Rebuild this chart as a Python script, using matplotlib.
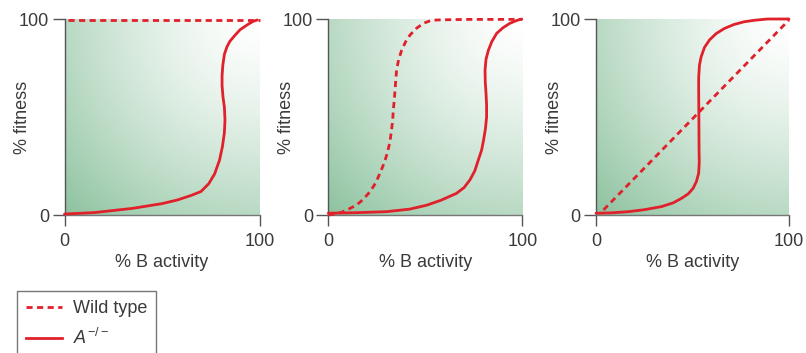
import matplotlib.pyplot as plt
import numpy as np
from matplotlib.lines import Line2D

plt.rcParams['font.family'] = ['Liberation Sans', 'DejaVu Sans']
plt.rcParams['mathtext.fontset'] = 'custom'
plt.rcParams['mathtext.rm'] = 'Liberation Sans'
plt.rcParams['mathtext.it'] = 'Liberation Sans:italic'

RED = '#e0202a'
TXT = '#3a3a3a'

# panel 1 - wild type flat at 100, mutant S-curve
wt1_x = [2, 100]
wt1_y = [99.5, 99.5]
mu1_x = [0, 15, 35, 50, 58, 65, 70, 74, 77, 79.5, 81, 82, 82.3, 82, 81.3, 80.8, 80.8, 81.2, 82, 83.3, 84.8, 86.8, 90, 93.7, 96.5, 98.8]
mu1_y = [0.5, 1.2, 3.4, 5.8, 7.7, 10, 12, 16, 21, 28, 35, 42, 48.5, 55, 60, 66, 71, 76.5, 82, 85.8, 88.6, 91, 94.5, 97, 98.7, 99.5]

# panel 2 - wild type sigmoid, mutant S-curve
wt2_x = [0, 3.5, 6.9, 10.5, 14.6, 18, 21.5, 24.5, 26.6, 28.8, 30.4, 31.8, 32.6, 33.2, 33.5, 34, 34.4, 34.8, 35.2, 36.3, 37.8, 39.8, 42.1, 45.5, 49, 52, 55.8, 65, 73, 85, 100]
wt2_y = [0, 0.5, 1.4, 3, 5.1, 8, 11.9, 16.5, 21.3, 26.5, 31.5, 37.5, 43.4, 48.5, 53.6, 58.5, 63.8, 69, 74, 79.5, 84, 88.3, 91.8, 95.3, 97.8, 98.9, 99.5, 99.7, 99.8, 99.8, 99.8]
mu2_x = [0, 15, 30, 42, 50.7, 58, 66, 70, 73, 75.5, 77.3, 79, 80, 81, 81.6, 81.6, 81.3, 80.9, 80.8, 81.3, 82.5, 84.3, 86.8, 90, 93.6, 97, 99.7]
mu2_y = [0.9, 1.2, 1.7, 3, 5, 7.5, 11, 14, 17.9, 22.5, 28, 33, 38, 44, 50, 56, 62, 68, 74, 79.5, 84, 88.5, 92.7, 95.5, 97.8, 99.2, 100]

# panel 3 - wild type linear, mutant steep switch at ~53%
wt3_x = [3.9, 100]
wt3_y = [2.6, 99.5]
mu3_x = [0, 8, 16.8, 25, 34, 40, 44.3, 47.8, 50.3, 52, 53.2, 53.5, 53.4, 53.3, 53.2, 53.2, 53.6, 54.5, 56.2, 58.8, 62.3, 66.6, 71.5, 76.8, 82.5, 88.9, 94, 100]
mu3_y = [0.9, 1.1, 1.7, 2.7, 4.3, 6.2, 8.5, 10.8, 13.6, 17, 21.3, 27, 33, 50, 63.8, 70, 76.5, 80.8, 85.5, 89.3, 92.6, 95.2, 97.2, 98.6, 99.4, 100, 100, 100]

panels = [
    (wt1_x, wt1_y, mu1_x, mu1_y),
    (wt2_x, wt2_y, mu2_x, mu2_y),
    (wt3_x, wt3_y, mu3_x, mu3_y),
]
boxes = [(64.5, 195), (328.3, 194), (596, 193)]
W, H = 806, 353

# background gradient: green bottom-left fading to white at top-right
gx, gy = np.meshgrid(np.linspace(0, 1, 200), np.linspace(0, 1, 200))
t = np.sqrt((1 - gx) ** 2 + (1 - gy) ** 2) / np.sqrt(2)
t = np.clip(t, 0, 1) ** 1.4
white = np.array([1.0, 1.0, 1.0])
green = np.array([140, 194, 158]) / 255.0
bg = white[None, None, :] * (1 - t[..., None]) + green[None, None, :] * t[..., None]

fig = plt.figure(figsize=(W / 100, H / 100), dpi=100)

for (wx, wy, mx, my), (left, width) in zip(panels, boxes):
    ax = fig.add_axes([left / W, 1 - 215 / H, width / W, 196 / H])
    ax.imshow(bg, extent=[0, 100, 0, 100], origin='lower', aspect='auto', zorder=0)
    ax.plot(wx, wy, color=RED, lw=2.0, dashes=(2.2, 1.6), clip_on=False, zorder=3)
    ax.plot(mx, my, color=RED, lw=2.0, clip_on=False, zorder=3, solid_capstyle='round')
    ax.set_xlim(0, 100)
    ax.set_ylim(0, 100)
    ax.set_xticks([0, 100])
    ax.set_yticks([0, 100])
    for s in ['top', 'right']:
        ax.spines[s].set_visible(False)
    ax.spines['left'].set_color('#555555')
    ax.spines['bottom'].set_color('#777777')
    ax.spines['left'].set_linewidth(1.0)
    ax.spines['bottom'].set_linewidth(1.0)
    ax.tick_params(axis='y', length=9, width=1, color='#555555', pad=2, labelsize=13, labelcolor=TXT)
    ax.tick_params(axis='x', length=8, width=1, color='#555555', pad=5, labelsize=13, labelcolor=TXT)
    ax.set_xlabel('% B activity', fontsize=13, color=TXT)
    ax.set_ylabel('% fitness', fontsize=13, color=TXT)
    ax.xaxis.set_label_coords(0.5, -0.2)
    ax.yaxis.set_label_coords(-0.17, 0.5)

handles = [
    Line2D([], [], color=RED, lw=2.0, dashes=(2.2, 1.6)),
    Line2D([], [], color=RED, lw=2.0),
]
leg = fig.legend(handles, ['Wild type', r'$A^{-/-}$'], loc='upper left',
                 bbox_to_anchor=(17 / W, 1 - 291 / H), frameon=True, fancybox=False,
                 fontsize=13, handlelength=2.0, handletextpad=0.6, borderpad=0.5,
                 labelspacing=0.6, borderaxespad=0)
leg.get_frame().set_edgecolor('#555555')
leg.get_frame().set_linewidth(1.0)
for txt in leg.get_texts():
    txt.set_color(TXT)

fig.savefig('out.png', dpi=100)
